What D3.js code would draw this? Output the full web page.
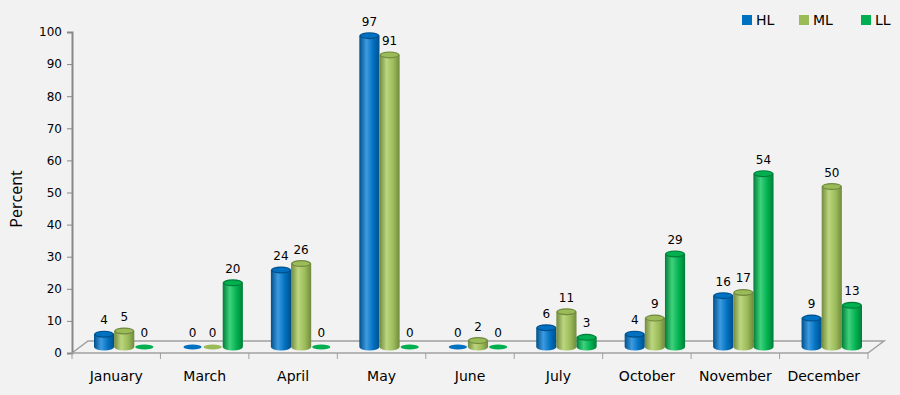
<!DOCTYPE html>
<html>
<head>
<meta charset="utf-8">
<script src="https://cdn.jsdelivr.net/npm/d3@7"></script>
<style>
  body { margin: 0; background: #f2f2f2; }
  svg { display: block; font-family: "DejaVu Sans", sans-serif; }
</style>
</head>
<body>
<svg width="900" height="395"></svg>
<script>
var categories = ['January', 'March', 'April', 'May', 'June', 'July', 'October', 'November', 'December'];
var seriesNames = ['HL', 'ML', 'LL'];
var hlValues = [4, 0, 24, 97, 0, 6, 4, 16, 9];
var mlValues = [5, 0, 26, 91, 2, 11, 9, 17, 50];
var llValues = [0, 20, 0, 0, 0, 3, 29, 54, 13];
var yTicks = [0, 10, 20, 30, 40, 50, 60, 70, 80, 90, 100];
var colors = {HL: ['#0070c0', '#004f8a', '#3d9be0'], ML: ['#9bbb59', '#71893f', '#bcd67f'], LL: ['#00b050', '#007e39', '#3fd27c']};

var svg = d3.select('svg');
var margin = {top: 31, bottom: 42, left: 72, right: 32};
var width = 900, height = 395;
var depth = {x: 16, y: -12};

var xScale = d3.scaleBand()
    .domain(categories)
    .range([margin.left, width - margin.right]);
var inner = d3.scaleBand()
    .domain(seriesNames)
    .range([14, xScale.bandwidth() - 14]);
var yScale = d3.scaleLinear()
    .domain([0, 100])
    .range([height - margin.bottom, margin.top + 1]);

var y0 = yScale(0);
var xEnd = width - margin.right;

// gradients for cylinders
var defs = svg.append('defs');
seriesNames.forEach(s => {
    var g = defs.append('linearGradient').attr('id', 'g' + s).attr('x1', 0).attr('x2', 1).attr('y1', 0).attr('y2', 0);
    g.append('stop').attr('offset', '0%').attr('stop-color', colors[s][1]);
    g.append('stop').attr('offset', '35%').attr('stop-color', colors[s][2]);
    g.append('stop').attr('offset', '70%').attr('stop-color', colors[s][0]);
    g.append('stop').attr('offset', '100%').attr('stop-color', colors[s][1]);
});

// floor
svg.append('path')
    .attr('d', 'M' + [margin.left, y0] + 'L' + [margin.left + depth.x, y0 + depth.y] + 'L' + [xEnd + depth.x, y0 + depth.y] + 'L' + [xEnd, y0])
    .attr('fill', 'none')
    .attr('stroke', '#a0a0a0')
    .attr('stroke-width', 1.5);

// axes
var yAxis = d3.axisLeft(yScale).tickValues(yTicks).tickSize(5).tickPadding(5);
var gy = svg.append('g')
    .attr('transform', 'translate(' + [margin.left, 0] + ')')
    .call(yAxis);
gy.select('.domain').attr('stroke', '#888').attr('stroke-width', 2);
gy.selectAll('.tick line').attr('stroke', '#888');
gy.selectAll('.tick text').attr('font-size', 12).attr('fill', '#000').attr('font-family', '"DejaVu Sans", sans-serif');

var xAxis = d3.axisBottom(xScale).tickSize(0).tickPadding(18);
var gx = svg.append('g')
    .attr('transform', 'translate(' + [0, y0] + ')')
    .call(xAxis);
gx.select('.domain').remove();
gx.selectAll('.tick text').attr('font-size', 14).attr('fill', '#000').attr('font-family', '"DejaVu Sans", sans-serif');
gx.append('line').attr('x1', margin.left).attr('x2', xEnd).attr('stroke', '#a0a0a0').attr('stroke-width', 1.5);
gx.selectAll('.sep')
    .data(categories.concat(['end']))
    .enter().append('line')
    .attr('x1', (d, i) => margin.left + i * xScale.bandwidth())
    .attr('x2', (d, i) => margin.left + i * xScale.bandwidth())
    .attr('y1', 0).attr('y2', 6)
    .attr('stroke', '#a0a0a0');

// bars
var data = [];
categories.forEach((c, i) => {
    data.push({cat: c, s: 'HL', v: hlValues[i]});
    data.push({cat: c, s: 'ML', v: mlValues[i]});
    data.push({cat: c, s: 'LL', v: llValues[i]});
});

var bw = inner.bandwidth();
var ry = 3.5;
var base = y0 + depth.y / 2;
var bars = svg.append('g').selectAll('g')
    .data(data)
    .enter().append('g')
    .attr('transform', d => 'translate(' + [xScale(d.cat) + inner(d.s) + depth.x / 2, 0] + ')');

bars.each(function(d) {
    var g = d3.select(this);
    var top = base - (y0 - yScale(d.v));
    if (d.v === 0) {
        g.append('ellipse').attr('cx', bw / 2).attr('cy', base).attr('rx', bw / 2 - 1).attr('ry', 2.4)
            .attr('fill', colors[d.s][0]);
        return;
    }
    g.append('path')
        .attr('d', 'M0,' + top + 'L0,' + base + 'A' + (bw / 2) + ',' + ry + ' 0 0 0 ' + bw + ',' + base + 'L' + bw + ',' + top + 'Z')
        .attr('fill', 'url(#g' + d.s + ')');
    g.append('ellipse').attr('cx', bw / 2).attr('cy', top).attr('rx', bw / 2).attr('ry', ry)
        .attr('fill', colors[d.s][1]);
    g.append('ellipse').attr('cx', bw / 2).attr('cy', top).attr('rx', bw / 2 - 1.5).attr('ry', ry - 1.2)
        .attr('fill', colors[d.s][0]);
});

// value labels
bars.append('text')
    .attr('x', bw / 2)
    .attr('y', d => base - (y0 - yScale(d.v)) - 10)
    .attr('text-anchor', 'middle')
    .attr('font-size', 12)
    .text(d => d.v);

// y title
svg.append('text')
    .attr('transform', 'translate(22,' + 199 + ') rotate(-90)')
    .attr('text-anchor', 'middle')
    .attr('font-size', 16)
    .attr('font-family', '"Open Sans", sans-serif')
    .text('Percent');

// legend
var legendX = [742, 799, 861];
var legend = svg.append('g').selectAll('g')
    .data(seriesNames)
    .enter().append('g')
    .attr('transform', (d, i) => 'translate(' + [legendX[i], 15] + ')');
legend.append('rect').attr('width', 10).attr('height', 10).attr('fill', d => colors[d][0]);
legend.append('text').attr('x', 14).attr('y', 10).attr('font-size', 14).text(d => d);
</script>
</body>
</html>
